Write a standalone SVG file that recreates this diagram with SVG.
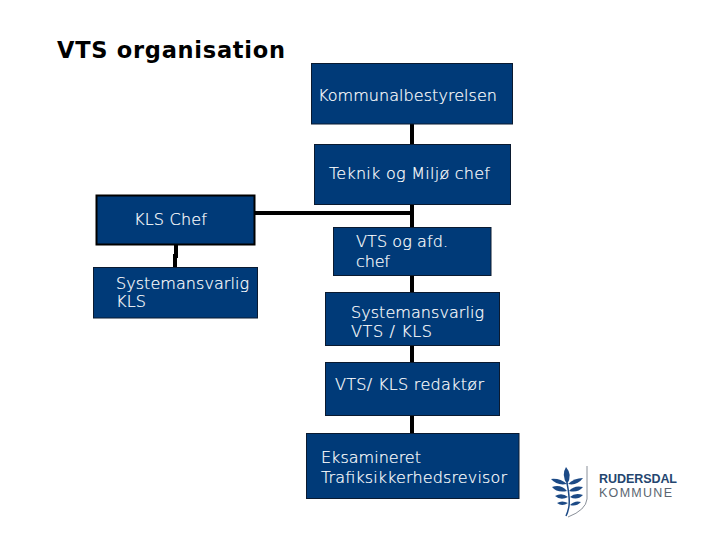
<svg xmlns="http://www.w3.org/2000/svg" width="720" height="540" viewBox="0 0 720 540">
<style>
.box{fill:#003a78;stroke:#0a1a30;stroke-width:1}
.t{font-family:"DejaVu Sans Light","DejaVu Sans",Verdana,sans-serif;font-weight:200;font-size:16px;fill:#fff;stroke:#fff;stroke-width:.2px}
.c{fill:none;stroke:#000;stroke-width:4}
.leaf{fill:#1c4a86}
</style>
<rect width="720" height="540" fill="#fff"/>
<text x="57" y="58" font-family="'DejaVu Sans',Verdana,sans-serif" font-weight="700" font-size="22.500px" fill="#000" textLength="228">VTS organisation</text>
<g id="connectors">
<path class="c" d="M412 124V433"/>
<path class="c" d="M254 213H412"/>
<path class="c" d="M176 244V256L175 256V267"/>
</g>
<g id="n1"><rect class="box" x="311.500" y="63.500" width="201" height="60.500"/><text class="t" x="318" y="101" textLength="179">Kommunalbestyrelsen</text></g>
<g id="n2"><rect class="box" x="314.500" y="144.500" width="196" height="60"/><text class="t" x="329" y="179" textLength="161">Teknik og Miljø chef</text></g>
<g id="n3"><rect class="box" x="333.500" y="227.500" width="157.500" height="48"/><text class="t" x="356" y="247" textLength="92">VTS og afd.</text><text class="t" x="356" y="267" textLength="34">chef</text></g>
<g id="n4"><rect class="box" x="325.500" y="292.500" width="174" height="53"/><text class="t" x="351" y="318" textLength="133">Systemansvarlig</text><text class="t" x="351" y="337" textLength="81">VTS / KLS</text></g>
<g id="n5"><rect class="box" x="325.500" y="362.500" width="174" height="53"/><text class="t" x="335" y="390" textLength="149">VTS/ KLS redaktør</text></g>
<g id="n6"><rect class="box" x="306.500" y="433.500" width="212.500" height="65"/><text class="t" x="321" y="463" textLength="100">Eksamineret</text><text class="t" x="321" y="483" textLength="186">Trafiksikkerhedsrevisor</text></g>
<g id="n7"><rect class="box" x="96.500" y="195.500" width="158" height="49" style="stroke-width:2;stroke:#000"/><text class="t" x="134" y="225" textLength="73">KLS Chef</text></g>
<g id="n8"><rect class="box" x="93.500" y="267.500" width="164" height="50.500"/><text class="t" x="116" y="289" textLength="133">Systemansvarlig</text><text class="t" x="116" y="307" textLength="30">KLS</text></g>
<g id="logo">
<path d="M587 466V499Q586 510 568 517" fill="none" stroke="#8a9099" stroke-width="1"/>
<path d="M567 483Q570 498 569 506Q568 512 566 516" fill="none" stroke="#1c4a86" stroke-width="1.500"/>
<path class="leaf" d="M566 467Q573 475 567 484Q561 475 566 467Z"/>
<path class="leaf" d="M551 479Q560 478 567 484Q557 486 551 479Z"/>
<path class="leaf" d="M583 478Q574 478 568 484Q577 486 583 478Z"/>
<path class="leaf" d="M552 487Q561 484 567 491Q557 493 552 487Z"/>
<path class="leaf" d="M583 487Q574 485 569 491Q578 493 583 487Z"/>
<path class="leaf" d="M555 496Q562 492 568 497Q561 501 555 496Z"/>
<path class="leaf" d="M583 495Q575 492 570 497Q577 501 583 495Z"/>
<path class="leaf" d="M557 503Q562 500 568 503Q562 507 557 503Z"/>
<path class="leaf" d="M581 502Q575 500 570 505Q576 507 581 502Z"/>
<text x="599" y="483" font-family="'Liberation Sans',Arial,sans-serif" font-weight="700" font-size="12.500px" fill="#24466f" textLength="78">RUDERSDAL</text>
<text x="599" y="497" font-family="'Liberation Sans',Arial,sans-serif" font-size="12.500px" fill="#5a6570" textLength="73">KOMMUNE</text>
</g>
</svg>
